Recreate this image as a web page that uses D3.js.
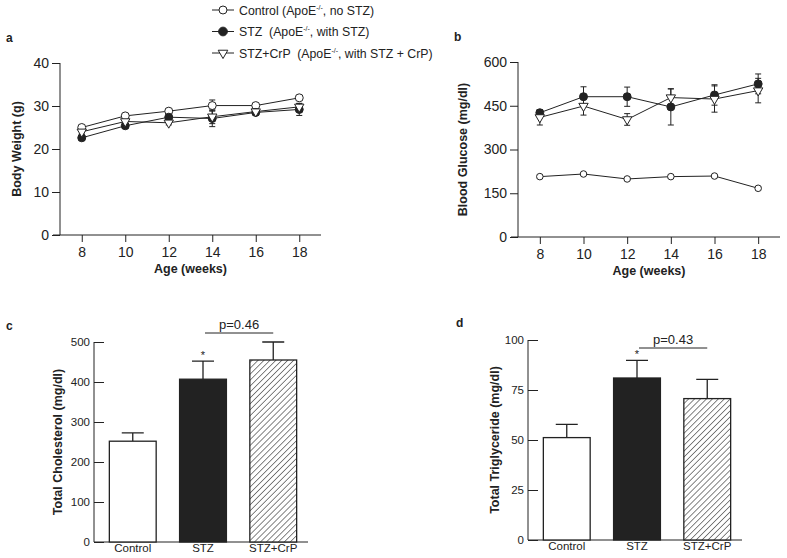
<!DOCTYPE html>
<html><head><meta charset="utf-8">
<script src="https://cdn.jsdelivr.net/npm/d3@7"></script>
<style>
body{margin:0;background:#fff}
text{font-family:"Liberation Sans",Arial,sans-serif;fill:#222}
</style></head><body>
<svg id="c" width="787" height="558"></svg>
<script>
const weeks = [8,10,12,14,16,18];
const bwControl = [25.0,27.7,28.8,30.1,30.1,31.9];
const bwControlErr = [0.5,0.5,0.5,1.3,0.5,0.5];
const bwSTZ = [22.6,25.4,27.4,27.1,28.5,29.2];
const bwSTZErr = [0.6,0.6,0.8,1.9,0.6,1.4];
const bwCrP = [24.0,26.4,26.1,27.5,28.7,29.8];
const bwCrPErr = [0.5,0.5,0.5,1.6,0.6,0.8];

const bgControl = [207,216,199,207,209,167];
const bgControlErr = [5,5,5,5,5,5];
const bgSTZ = [426,481,481,446,487,525];
const bgSTZErr = [10,34,33,62,35,34];
const bgCrP = [410,449,403,478,473,502];
const bgCrPErr = [26,31,20,30,45,42];

const groups = ["Control","STZ","STZ+CrP"];
const chol = [252,407,455];
const cholErr = [21,45,45];
const tg = [51.2,81,70.7];
const tgErr = [6.6,8.8,9.6];

const bwTicks = [0,10,20,30,40];
const bgTicks = [0,150,300,450,600];
const cholTicks = [0,100,200,300,400,500];
const tgTicks = [0,25,50,75,100];

const svg = d3.select("#c");
const ink = "#222";

const defs = svg.append("defs");
const pat = defs.append("pattern").attr("id","hatch").attr("patternUnits","userSpaceOnUse")
  .attr("width",4.2).attr("height",4.2).attr("patternTransform","rotate(45)");
pat.append("rect").attr("width",4.2).attr("height",4.2).attr("fill","#fff");
pat.append("line").attr("x1",0).attr("y1",0).attr("x2",0).attr("y2",4.2).attr("stroke","#333").attr("stroke-width",1.2);

const legend = [
  {name:"Control", rest:" (ApoE", tail:", no STZ)", type:"circle", fill:"#fff"},
  {name:"STZ", rest:"  (ApoE", tail:", with STZ)", type:"circle", fill:ink},
  {name:"STZ+CrP", rest:"  (ApoE", tail:", with STZ + CrP)", type:"tri", fill:"#fff"}
];
legend.forEach((d,i)=>{
  const y = 10 + i*21.5;
  const g = svg.append("g");
  g.append("line").attr("x1",212).attr("x2",234).attr("y1",y).attr("y2",y).attr("stroke",ink);
  g.append("path").attr("transform",`translate(223,${y})` + (d.type==="tri"?" rotate(180)":""))
    .attr("d", d3.symbol().type(d.type==="tri"?d3.symbolTriangle:d3.symbolCircle).size(d.type==="tri"?40: (i===1?60:50))())
    .attr("fill",d.fill).attr("stroke",ink);
  const t = g.append("text").attr("x",239).attr("y",y+4.5).attr("font-size",12.3).style("white-space","pre");
  t.append("tspan").text(d.name + d.rest);
  t.append("tspan").attr("font-size",7).attr("dy",-5).text("-/-");
  t.append("tspan").attr("dy",5).text(d.tail);
});

function lineChart(o){
  const x = d3.scaleLinear().domain([7,19]).range(o.xr);
  const y = d3.scaleLinear().domain([0,o.ymax]).range(o.yr);
  const g = svg.append("g");
  const ya = g.append("g").attr("transform",`translate(${o.xr[0]},0)`)
    .call(d3.axisLeft(y).tickValues(o.yticks).tickSize(8).tickPadding(3));
  const xa = g.append("g").attr("transform",`translate(0,${o.yr[0]})`)
    .call(d3.axisBottom(x).tickValues(weeks).tickSize(7).tickPadding(5).tickSizeOuter(0));
  [ya,xa].forEach(a=>{a.selectAll("path,line").attr("stroke",ink);a.selectAll("text").attr("font-size",14).attr("fill",ink).style("font-family","Liberation Sans, Arial");});
  ya.select(".domain").attr("d",`M-0,${o.yr[0]}V${o.yr[1]}`);
  xa.select(".domain").attr("d",`M${o.xr[0]-7},0H${o.xr[1]}`);
  const line = d3.line().x((d,i)=>x(weeks[i])).y(d=>y(d));
  o.series.forEach(s=>{
    g.append("path").attr("d",line(s.v)).attr("fill","none").attr("stroke",ink).attr("stroke-width",1);
  });
  o.series.forEach(s=>{
    s.v.forEach((v,i)=>{
      const cx = x(weeks[i]), y1 = y(v+s.e[i]), y0 = y(v-s.e[i]);
      g.append("path").attr("d",`M${cx},${y0}V${y1}M${cx-3},${y1}H${cx+3}M${cx-3},${y0}H${cx+3}`).attr("stroke",ink).attr("fill","none");
    });
  });
  o.series.forEach(s=>{
    s.v.forEach((v,i)=>{
      g.append("path").attr("transform",`translate(${x(weeks[i])},${y(v)})`+(s.type==="tri"?" rotate(180)":""))
        .attr("d",d3.symbol().type(s.type==="tri"?d3.symbolTriangle:d3.symbolCircle).size(s.type==="tri"?38:s.size)())
        .attr("fill",s.fill).attr("stroke",ink).attr("stroke-width",1);
    });
  });
  g.append("text").attr("x",(x(8)+x(18))/2).attr("y",o.yr[0]+38).attr("text-anchor","middle")
    .attr("font-size",12.5).attr("font-weight","bold").text("Age (weeks)");
  g.append("text").attr("transform",`translate(${o.ylx},${(o.yr[0]+o.yr[1])/2}) rotate(-90)`)
    .attr("text-anchor","middle").attr("font-size",12.5).attr("font-weight","bold").text(o.ylabel);
  g.append("text").attr("x",o.lab[0]).attr("y",o.lab[1]).attr("font-size",12).attr("font-weight","bold").text(o.letter);
}

lineChart({xr:[60,321], yr:[235,63], ymax:40, yticks:bwTicks, ylabel:"Body Weight (g)", ylx:21, letter:"a", lab:[6,42],
  series:[
    {v:bwControl,e:bwControlErr,type:"circle",fill:"#fff",size:50},
    {v:bwSTZ,e:bwSTZErr,type:"circle",fill:ink,size:50},
    {v:bwCrP,e:bwCrPErr,type:"tri",fill:"#fff"}
  ]});
lineChart({xr:[518,780], yr:[237,62], ymax:600, yticks:bgTicks, ylabel:"Blood Glucose (mg/dl)", ylx:467, letter:"b", lab:[454,41],
  series:[
    {v:bgControl,e:bgControlErr,type:"circle",fill:"#fff",size:34},
    {v:bgSTZ,e:bgSTZErr,type:"circle",fill:ink,size:50},
    {v:bgCrP,e:bgCrPErr,type:"tri",fill:"#fff"}
  ]});

function barChart(o){
  const x = d3.scaleBand().domain(groups).range(o.xr).paddingInner(1/3).paddingOuter(0.19);
  const y = d3.scaleLinear().domain([0,o.ymax]).range(o.yr);
  const g = svg.append("g");
  const ya = g.append("g").attr("transform",`translate(${o.xr[0]-2},0)`)
    .call(d3.axisRight(y).tickValues(o.yticks).tickSize(10).tickFormat(d3.format("d")));
  ya.selectAll("text").attr("x",-4).attr("text-anchor","end").attr("font-size",11.5).attr("fill",ink);
  ya.selectAll("line").attr("stroke",ink);
  ya.select(".domain").attr("d",`M0,${o.yr[0]}V${o.yr[1]}`).attr("stroke",ink);
  const xa = g.append("g").attr("transform",`translate(0,${o.yr[0]})`).call(d3.axisBottom(x).tickSize(0).tickPadding(2));
  xa.select(".domain").attr("d",`M${o.xr[0]-2},0H${o.xr[1]-2}`).attr("stroke",ink);
  xa.selectAll("text").attr("font-size",11.5).attr("fill",ink);
  const fills = ["#fff",ink,"url(#hatch)"];
  groups.forEach((c,i)=>{
    const cx = x(c)+x.bandwidth()/2;
    g.append("path").attr("d",`M${cx},${y(o.v[i])}V${y(o.v[i]+o.e[i])}M${cx-11},${y(o.v[i]+o.e[i])}H${cx+11}`)
      .attr("stroke",ink).attr("stroke-width",1.3);
    g.append("rect").attr("x",x(c)).attr("y",y(o.v[i])).attr("width",x.bandwidth()).attr("height",y(0)-y(o.v[i]))
      .attr("fill",fills[i]).attr("stroke",ink).attr("stroke-width",1.3);
  });
  const sx = x("STZ")+x.bandwidth()/2;
  g.append("text").attr("x",sx).attr("y",y(o.v[1]+o.e[1])-2).attr("text-anchor","middle").attr("font-size",11).text("*");
  const x1 = sx+2, x2 = x("STZ+CrP")+x.bandwidth()/2;
  g.append("line").attr("x1",x1).attr("x2",x2).attr("y1",o.pY).attr("y2",o.pY).attr("stroke",ink);
  g.append("text").attr("x",(x1+x2)/2).attr("y",o.pY-4).attr("text-anchor","middle").attr("font-size",13).text(o.p);
  g.append("text").attr("transform",`translate(${o.ylx},${(o.yr[0]+o.yr[1])/2}) rotate(-90)`)
    .attr("text-anchor","middle").attr("font-size",12.5).attr("font-weight","bold").text(o.ylabel);
  g.append("text").attr("x",o.lab[0]).attr("y",o.lab[1]).attr("font-size",12).attr("font-weight","bold").text(o.letter);
}

barChart({xr:[96,310], yr:[542,342], ymax:500, yticks:cholTicks, v:chol, e:cholErr, pY:333, p:"p=0.46",
  ylabel:"Total Cholesterol (mg/dl)", ylx:62, letter:"c", lab:[6,330]});
barChart({xr:[530,744], yr:[540,340], ymax:100, yticks:tgTicks, v:tg, e:tgErr, pY:348, p:"p=0.43",
  ylabel:"Total Triglyceride (mg/dl)", ylx:499, letter:"d", lab:[456,327]});
</script></body></html>
